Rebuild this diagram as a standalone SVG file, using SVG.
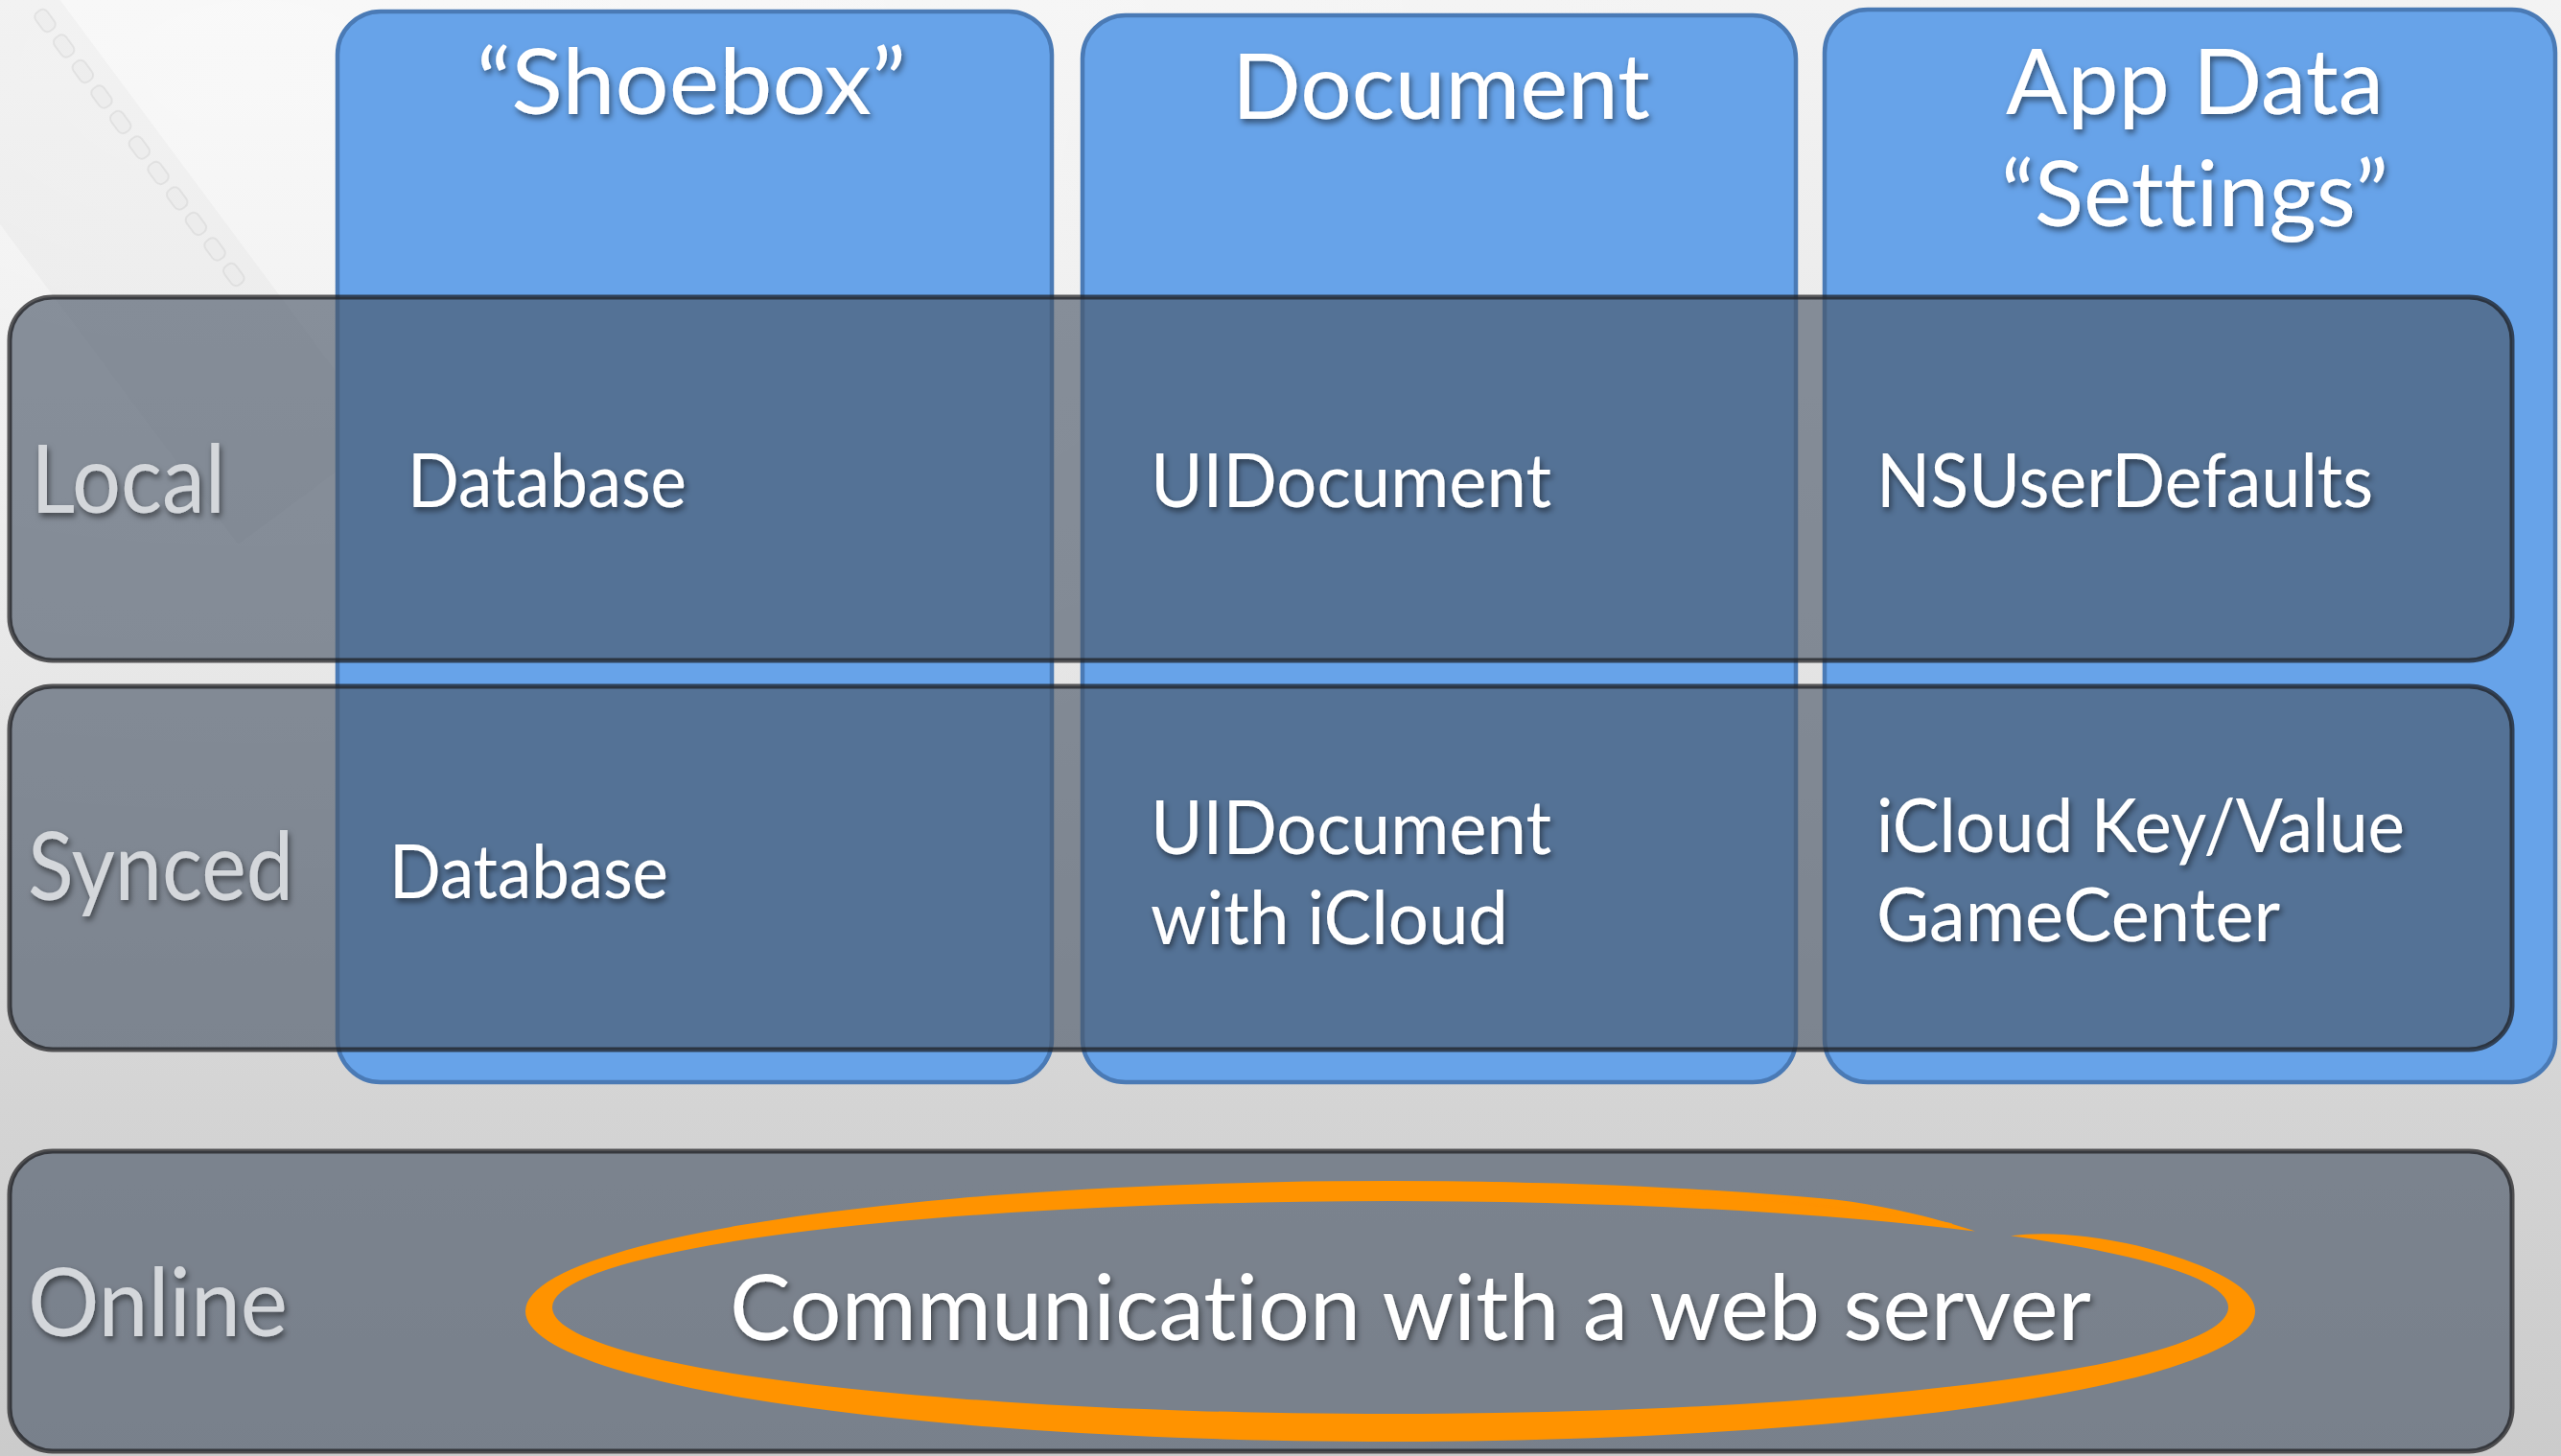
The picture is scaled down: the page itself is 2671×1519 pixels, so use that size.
<svg xmlns="http://www.w3.org/2000/svg" width="2671" height="1519" viewBox="0 0 2671 1519">
  <defs>
    <linearGradient id="bg" x1="0" y1="0" x2="0" y2="1">
      <stop offset="0" stop-color="#f3f3f3"/>
      <stop offset="0.45" stop-color="#e4e4e4"/>
      <stop offset="0.76" stop-color="#d4d4d4"/>
      <stop offset="1" stop-color="#cbcbcb"/>
    </linearGradient>
    <radialGradient id="glow" cx="0.1" cy="0.05" r="0.6">
      <stop offset="0" stop-color="#ffffff" stop-opacity="0.5"/>
      <stop offset="1" stop-color="#ffffff" stop-opacity="0"/>
    </radialGradient>
    <filter id="ts" x="-10%" y="-30%" width="120%" height="170%">
      <feDropShadow dx="2" dy="4" stdDeviation="3" flood-color="#000" flood-opacity="0.5"/>
    </filter>
    <style>
      .col { fill: #67a3e9; stroke: #4a7ab5; stroke-width: 4.5; }
      .row { fill: rgb(74,86,104); fill-opacity: 0.64; stroke: rgb(28,28,30); stroke-opacity: 0.72; stroke-width: 5; }
      text { font-family: Lato, "Open Sans", "Liberation Sans", sans-serif; font-variant-ligatures: none; font-feature-settings: "liga" 0, "clig" 0, "dlig" 0; }
      .hdr { font-size: 95px; fill: #ffffff; }
      .cell { font-size: 77px; fill: #ffffff; }
      .lbl { font-size: 98px; fill: #d4d7db; }
      .big { font-size: 95px; fill: #ffffff; }
      .hole { fill: #e9e9e9; fill-opacity: 0.5; stroke: #7a7a7a; stroke-opacity: 0.1; stroke-width: 2; }
    </style>
  </defs>

  <!-- backdrop -->
  <rect width="2671" height="1519" fill="url(#bg)"/>
  <rect width="2671" height="1519" fill="url(#glow)"/>

  <!-- faint film strip in the top-left corner -->
  <g id="film-strip" transform="translate(46,21) rotate(53.4)">
    <rect x="-80" y="-26" width="640" height="190" fill="#000" fill-opacity="0.025"/>
    <rect class="hole" x="-11" y="-8" width="24" height="15" rx="6"/>
    <rect class="hole" x="22" y="-8" width="24" height="15" rx="6"/>
    <rect class="hole" x="55" y="-8" width="24" height="15" rx="6"/>
    <rect class="hole" x="88" y="-8" width="24" height="15" rx="6"/>
    <rect class="hole" x="121" y="-8" width="24" height="15" rx="6"/>
    <rect class="hole" x="154" y="-8" width="24" height="15" rx="6"/>
    <rect class="hole" x="187" y="-8" width="24" height="15" rx="6"/>
    <rect class="hole" x="220" y="-8" width="24" height="15" rx="6"/>
    <rect class="hole" x="253" y="-8" width="24" height="15" rx="6"/>
    <rect class="hole" x="286" y="-8" width="24" height="15" rx="6"/>
    <rect class="hole" x="319" y="-8" width="24" height="15" rx="6"/>
  </g>

  <!-- columns: storage kinds -->
  <g id="col-shoebox">
    <rect class="col" x="352" y="12" width="745" height="1117" rx="45"/>
    <text class="hdr" x="497" y="119" textLength="448" lengthAdjust="spacingAndGlyphs" filter="url(#ts)">“Shoebox”</text>
  </g>
  <g id="col-document">
    <rect class="col" x="1129" y="16" width="744" height="1113" rx="45"/>
    <text class="hdr" x="1285" y="124" textLength="436" lengthAdjust="spacingAndGlyphs" filter="url(#ts)">Document</text>
  </g>
  <g id="col-appdata">
    <rect class="col" x="1903" y="10" width="762" height="1119" rx="45"/>
    <text class="hdr" x="2092" y="119" textLength="394" lengthAdjust="spacingAndGlyphs" filter="url(#ts)">App Data</text>
    <text class="hdr" x="2087" y="236" textLength="404" lengthAdjust="spacingAndGlyphs" filter="url(#ts)">“Settings”</text>
  </g>

  <!-- rows: where the data lives -->
  <g id="row-local">
    <rect class="row" x="10" y="310" width="2610" height="379" rx="45"/>
    <text class="lbl" x="32" y="535" textLength="203" lengthAdjust="spacingAndGlyphs" filter="url(#ts)">Local</text>
    <text class="cell" x="425" y="529" textLength="291" lengthAdjust="spacingAndGlyphs" filter="url(#ts)">Database</text>
    <text class="cell" x="1200" y="529" textLength="418" lengthAdjust="spacingAndGlyphs" filter="url(#ts)">UIDocument</text>
    <text class="cell" x="1957" y="529" textLength="518" lengthAdjust="spacingAndGlyphs" filter="url(#ts)">NSUserDefaults</text>
  </g>
  <g id="row-synced">
    <rect class="row" x="10" y="716" width="2610" height="379" rx="45"/>
    <text class="lbl" x="29" y="939" textLength="277" lengthAdjust="spacingAndGlyphs" filter="url(#ts)">Synced</text>
    <text class="cell" x="406" y="937" textLength="291" lengthAdjust="spacingAndGlyphs" filter="url(#ts)">Database</text>
    <text class="cell" x="1200" y="891" textLength="418" lengthAdjust="spacingAndGlyphs" filter="url(#ts)">UIDocument</text>
    <text class="cell" x="1200" y="985" textLength="373" lengthAdjust="spacingAndGlyphs" filter="url(#ts)">with iCloud</text>
    <text class="cell" x="1957" y="889" textLength="551" lengthAdjust="spacingAndGlyphs" filter="url(#ts)">iCloud Key/Value</text>
    <text class="cell" x="1957" y="982" textLength="421" lengthAdjust="spacingAndGlyphs" filter="url(#ts)">GameCenter</text>
  </g>
  <g id="row-online">
    <rect class="row" x="10" y="1201" width="2610" height="313" rx="45"/>
    <text class="lbl" x="29" y="1394" textLength="271" lengthAdjust="spacingAndGlyphs" filter="url(#ts)">Online</text>
  </g>

  <!-- hand-drawn orange loop around the online label -->
  <g id="highlight" fill="#ff9300">
    <path d="M 2097,1289.37 Q 2150,1282 2229,1299.44 A 902 136 0 1 1 548,1368 A 902 136 0 0 1 1900,1250.13 C 1960,1255.3 2020,1271 2060,1284.51 A 874 111 0 0 0 576,1364 A 874 111 0 1 0 2097,1289.37 Z"/>
    <g fill="none" stroke="#ff9300" stroke-linecap="round">
      <path d="M 1560,1234 Q 1820,1241 2035,1277" stroke-width="2" stroke-opacity="0.7"/>
      <path d="M 1620,1239 Q 1850,1247 2010,1273" stroke-width="1.5" stroke-opacity="0.6"/>
    </g>
  </g>

  <g id="online-text">
    <text class="big" x="761" y="1398" textLength="1420" lengthAdjust="spacingAndGlyphs" filter="url(#ts)">Communication with a web server</text>
  </g>
</svg>
